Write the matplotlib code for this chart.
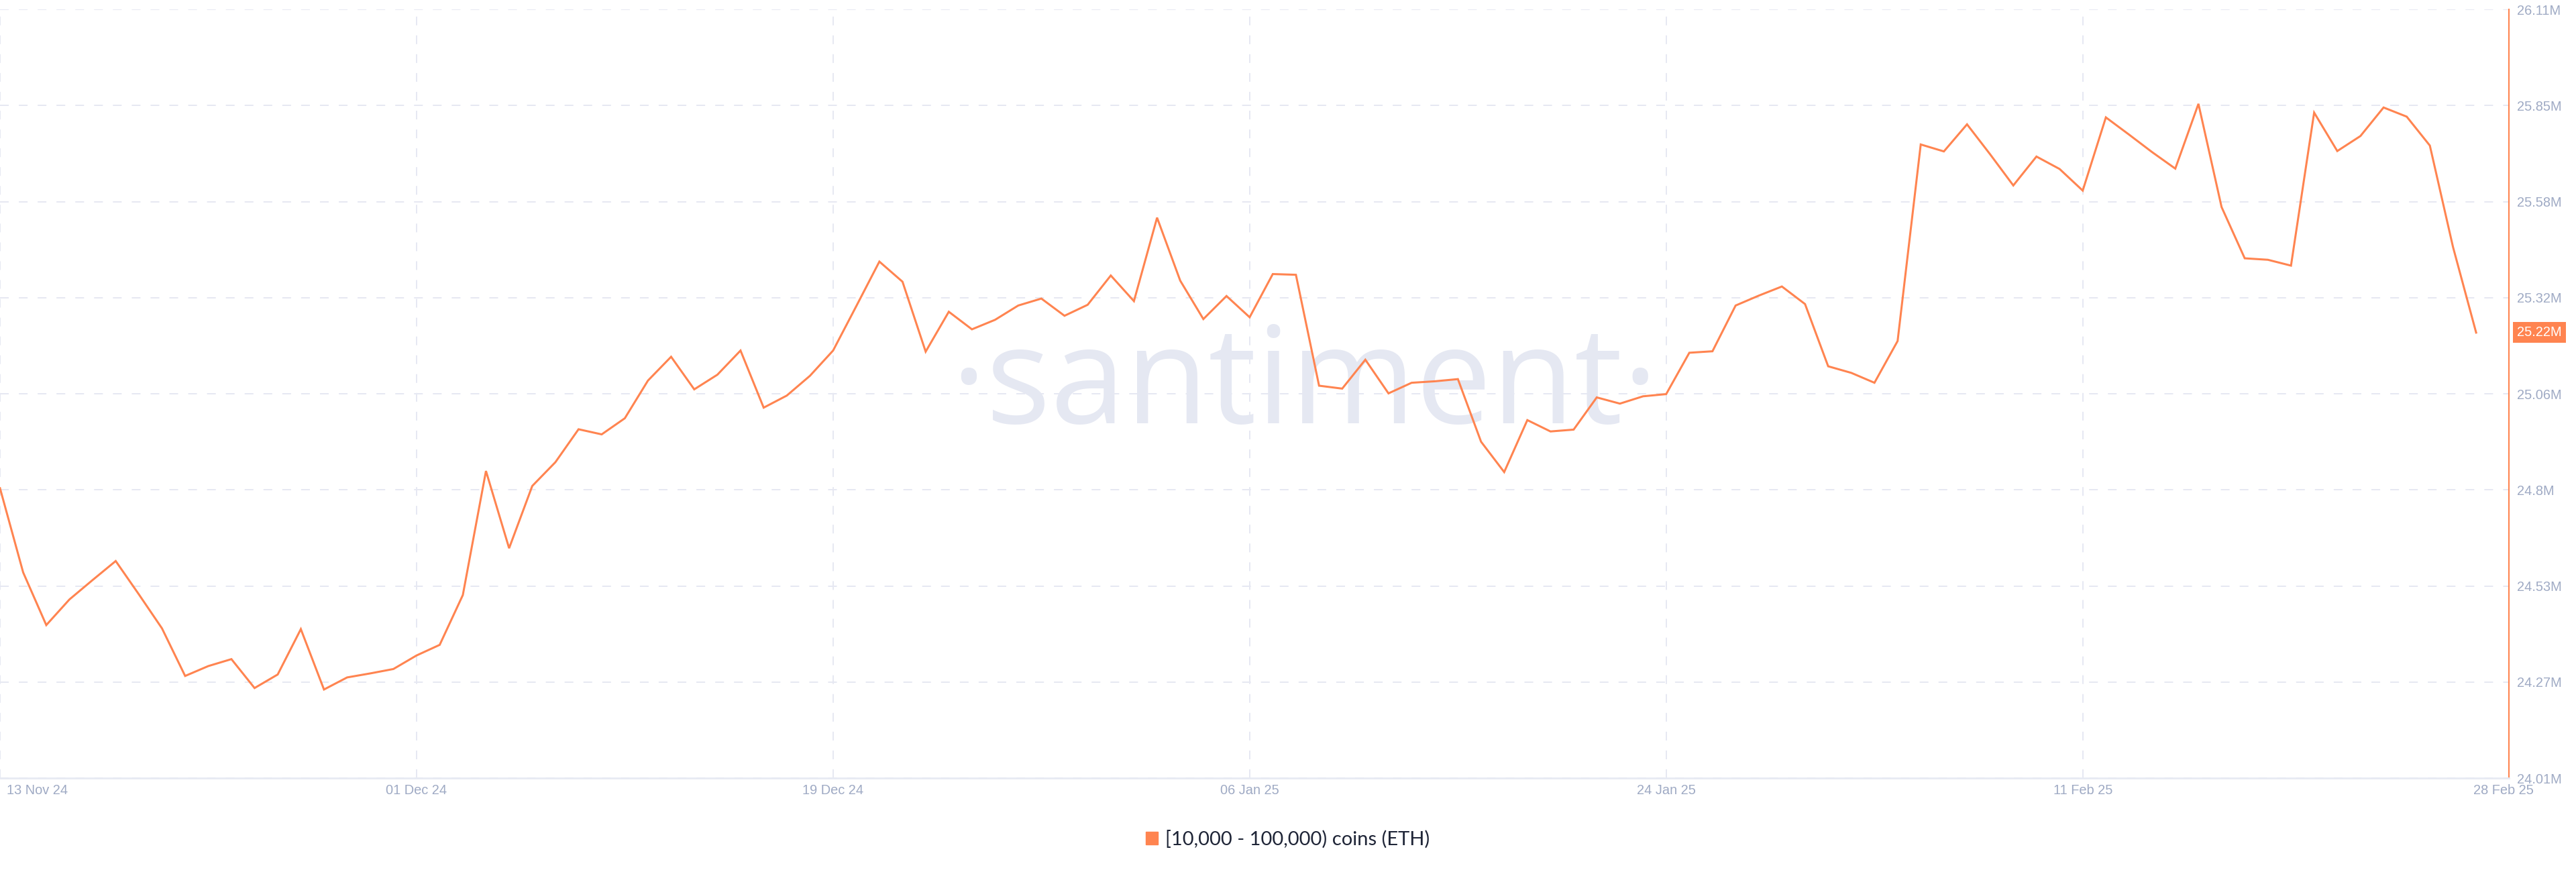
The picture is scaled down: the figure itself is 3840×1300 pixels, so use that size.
import pandas as pd
import numpy as np
import matplotlib.pyplot as plt
from matplotlib.patches import Patch
from matplotlib.transforms import ScaledTranslation

plt.rcParams['lines.scale_dashes'] = False

# daily holdings of [10,000 - 100,000) ETH wallets, in millions of coins
dates = pd.date_range('2024-11-13', '2025-02-28', freq='D')
values = [
    24.802, 24.572, 24.428, 24.498, 24.551, 24.603, 24.512, 24.419, 24.289, 24.316,
    24.335, 24.256, 24.293, 24.417, 24.252, 24.285, 24.296, 24.308, 24.345, 24.374,
    24.510, 24.849, 24.638, 24.808, 24.873, 24.963, 24.949, 24.993, 25.096, 25.161,
    25.072, 25.112, 25.178, 25.022, 25.055, 25.109, 25.178, 25.299, 25.421, 25.366,
    25.175, 25.284, 25.236, 25.262, 25.301, 25.320, 25.273, 25.303, 25.383, 25.313,
    25.541, 25.369, 25.264, 25.327, 25.269, 25.387, 25.385, 25.082, 25.074, 25.153,
    25.061, 25.090, 25.094, 25.100, 24.929, 24.846, 24.988, 24.957, 24.962, 25.050,
    25.033, 25.053, 25.059, 25.172, 25.176, 25.301, 25.328, 25.353, 25.305, 25.135,
    25.117, 25.090, 25.204, 25.741, 25.722, 25.796, 25.714, 25.629, 25.708, 25.674,
    25.615, 25.815, 25.768, 25.720, 25.675, 25.852, 25.570, 25.430, 25.426, 25.410,
    25.828, 25.723, 25.764, 25.842, 25.817, 25.738, 25.461, 25.227,
]
series_label = '[10,000 - 100,000) coins (ETH)'
last_label = '25.22M'

tick_dates = pd.to_datetime(['2024-11-13', '2024-12-01', '2024-12-19', '2025-01-06',
                             '2025-01-24', '2025-02-11', '2025-02-28'])
tick_labels = ['13 Nov 24', '01 Dec 24', '19 Dec 24', '06 Jan 25', '24 Jan 25', '11 Feb 25', '28 Feb 25']
y_ticks = [24.01, 24.2725, 24.535, 24.7975, 25.06, 25.3225, 25.585, 25.8475, 26.11]
y_labels = ['24.01M', '24.27M', '24.53M', '24.8M', '25.06M', '25.32M', '25.58M', '25.85M', '26.11M']

orange = '#ff8450'
grid_c = '#e6e8f2'
label_c = '#9faac4'

fig = plt.figure(figsize=(38.4, 13), dpi=100)
ax = fig.add_axes([0.0, 140 / 1300, 3740 / 3840, 1146 / 1300])

ax.plot(dates, values, color=orange, lw=2.2, zorder=3, solid_joinstyle='miter')

ax.text(0.52, 0.462, '·santiment·', transform=ax.transAxes, ha='center', va='baseline',
        fontsize=145, family='Open Sans', color='#e5e8f2', zorder=0.5)

ax.set_xlim(dates[0], dates[-1] + pd.Timedelta(hours=34))
ax.set_ylim(y_ticks[0], y_ticks[-1])

ax.set_xticks(tick_dates)
ax.set_xticklabels(tick_labels)
ax.yaxis.tick_right()
ax.set_yticks(y_ticks)
ax.set_yticklabels(y_labels)
ax.tick_params(axis='both', length=0, labelcolor=label_c, labelsize=14.4)
ax.tick_params(axis='x', pad=6.5)
ax.tick_params(axis='y', pad=8.6)
for lab in ax.get_xticklabels() + ax.get_yticklabels():
    lab.set_family('Liberation Sans')

xl = ax.get_xticklabels()
xl[0].set_ha('left')
xl[0].set_transform(xl[0].get_transform() + ScaledTranslation(0.10, 0, fig.dpi_scale_trans))
xl[-1].set_ha('left')
xl[-1].set_transform(xl[-1].get_transform() + ScaledTranslation(-0.04, 0, fig.dpi_scale_trans))

ax.grid(True, color=grid_c, lw=1.4, linestyle=(0, (9.4, 10.8)), zorder=1)
ax.xaxis.get_gridlines()[-1].set_visible(False)
ax.set_axisbelow(True)

for s in ['left', 'top']:
    ax.spines[s].set_visible(False)
ax.spines['bottom'].set_color('#e7eaf3')
ax.spines['bottom'].set_linewidth(2)
ax.spines['right'].set_color(orange)
ax.spines['right'].set_linewidth(1.5)

ax.annotate(last_label, xy=(1, values[-1]), xycoords=('axes fraction', 'data'),
            xytext=(8.6, 0), textcoords='offset points', ha='left', va='center',
            color='white', fontsize=14.4, family='Liberation Sans',
            bbox=dict(boxstyle='square,pad=0.3', fc=orange, ec='none'), annotation_clip=False)

fig.legend(handles=[Patch(color=orange)], labels=[series_label], loc='center',
           bbox_to_anchor=(0.5, 1 - 1251 / 1300), frameon=False, handlelength=0.6,
           handleheight=0.6, handletextpad=0.4,
           prop={'family': 'Lato', 'size': 21}, labelcolor='#1f2537')

fig.savefig('out.png', dpi=100)
